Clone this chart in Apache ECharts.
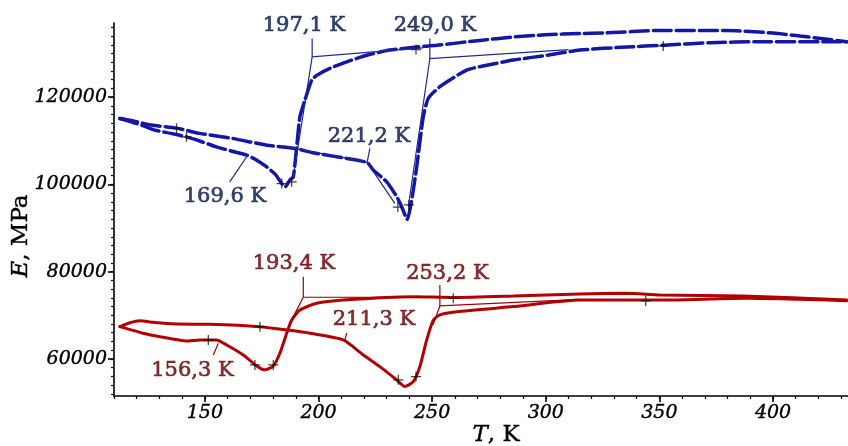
<!DOCTYPE html>
<html><head><meta charset="utf-8">
<script src="https://cdn.jsdelivr.net/npm/echarts@6/dist/echarts.min.js"></script>
<style>html,body{margin:0;padding:0;background:#fff}#c{width:848px;height:446px}</style>
</head><body><div id="c"></div>
<script>
// ---- data (T in K, E in MPa) ----
const xTicks = [150, 200, 250, 300, 350, 400];
const yTicks = [60000, 80000, 100000, 120000];

// blue: heating through low branch, transition ~190 K, upper right branch
const blue1T = [112.6,118,123.6,128.0,135,141.9,148,155.1,162,168.4,173,177.2,181,183.8,185.2,187.4,188.9,190.4,191.8,194.0,197.0,199.2,205.0,212.4,221.2,231.4,243.2,252.0,271.0,285.7,300,315.0,325.3,350.3,379.6,400.1,411.9,422,432.4];
const blue1E = [115100,114300,113300,112440,111700,110900,109900,108600,107600,106700,105500,104000,102300,100200,99400,101000,101750,108600,115500,119300,123900,125000,126600,128100,129600,130800,131500,131900,133000,133800,134300,134600,134700,135300,135300,134700,134000,133400,132700];
// blue: upper left branch, transition ~241 K, lower right branch
const blue2T = [112.6,118,126.5,137.5,147.8,162.5,177.2,189.6,197.7,212.4,221.4,224.1,230.0,234.4,236.6,239.0,241.0,243.2,246.1,248.3,253.4,265.2,274.0,285.7,300.4,315.0,335.6,351.7,372.3,394.3,432.4];
const blue2E = [115100,114600,113600,112900,111700,110500,109000,108250,107250,105960,105000,103300,100600,97200,94900,92000,96400,104000,115500,119700,122400,126200,127300,128500,129600,130800,131500,131900,132500,132700,132700];
// red: upper left branch, dip ~238 K, lower right branch
const red1T = [112.6,117.0,121.4,127.2,137.5,152.2,174.2,186.0,196.2,210.9,219.7,227.0,234.4,238.0,241.7,244.6,247.6,250.5,253.4,260.8,285.7,315.0,350.3,388.4,432.4];
const red1E = [67400,68300,68770,68400,68000,67950,67400,66640,65900,64350,60900,58240,55200,53660,54800,58240,64350,68900,70100,70800,72000,73500,73500,73900,73350];
// red: lower left branch, dip ~176 K, upper right branch
const red2T = [112.6,122.8,130.2,141.9,147.8,151.5,155.1,159.6,166.9,172.8,176.4,180.1,183.0,186.0,188.2,191.8,199.2,210.9,241.7,259.3,285.7,315.0,335.6,350.3,386.8,432.4];
const red2E = [67400,65900,65100,64100,64350,64350,64350,63200,60900,58400,57500,58400,61300,65900,68900,71200,72750,73500,74270,74100,74430,74900,75050,74660,74430,73500];

// "+" markers
const blueMarkT = [137.5,141.9,183.8,188.2,234.9,239.8,242.9,351.7];
const blueMarkE = [112900,110900,100200,100600,94800,95300,130900,131750];
const redMarkT = [151.5,174.2,172.0,180.1,235.1,242.9,259.3,344.0];
const redMarkE = [64350,67400,58630,58630,55200,55950,73900,73300];

// annotation labels
const blueLabels = ['197,1 K','249,0 K','221,2 K','169,6 K'];
const blueLabelT = [193.6,251.2,222.2,158.8];
const blueLabelE = [136490,136490,110900,97170];
const redLabels = ['193,4 K','253,2 K','211,3 K','156,3 K'];
const redLabelT = [189.2,256.7,224.4,144.5];
const redLabelE = [81760,79470,68930,57250];

// leader / tangent construction lines [ [T,E], ... ]
const blueLeaders = [
  [[197.2,133440],[197.2,129230],[246.0,131300]],
  [[197.2,129230],[188.9,101700]],
  [[249.0,133440],[249.0,128860],[310.0,130900]],
  [[249.0,128860],[239.5,94880]],
  [[222.6,108250],[221.4,105050],[185.0,108700]],
  [[221.4,105050],[233.6,95660]],
  [[160.9,100600],[168.4,106350]]
];
const redLeaders = [
  [[193.3,78850],[193.3,74130],[259.0,74100]],
  [[193.3,74130],[188.9,69700]],
  [[253.4,76950],[253.4,72140],[315.0,73670]],
  [[253.4,72140],[250.4,67800]],
  [[212.4,65900],[211.6,64350],[219.7,60900]],
  [[153.7,60900],[155.9,63600]]
];

// ---- build ----
const zip = (a, b) => a.map((v, i) => [v, b[i]]);

const X_MIN = 110, X_MAX = 433, Y_MIN = 51500, Y_MAX = 137000;
const G = {left: 114, right: 0, top: 23, bottom: 50};
// second grid for minor y ticks (2000 step) aligned to the main scale
const plotH = 446 - G.top - G.bottom;
const k = plotH / (Y_MAX - Y_MIN);
const yMinorMin = 52000, yMinorMax = 136000;
const G2 = {left: G.left, right: G.right,
  top: G.top + (Y_MAX - yMinorMax) * k, bottom: G.bottom + (yMinorMin - Y_MIN) * k};

const BLUE = '#1316a6', BLUE_T = '#08194a', RED = '#b30000', RED_T = '#6a0000';
const plus = 'path://M7,0H9V7H16V9H9V16H7V9H0V7H7Z';
const tickFont = {fontFamily: 'DejaVu Serif', fontStyle: 'italic', fontSize: 19, color: '#000',
  textBorderColor: '#000', textBorderWidth: 0.4, formatter: v => String(v)};

function curve(T, E, color, dashed) {
  return {type: 'line', data: zip(T, E), showSymbol: false, smooth: 0.2, silent: true,
    lineStyle: {color, width: dashed ? 3.5 : 3, type: dashed ? [18, 5] : 'solid', cap: 'round'}, z: 3};
}
function marks(T, E) {
  return {type: 'scatter', data: zip(T, E), symbol: plus, symbolSize: 10, silent: true,
    itemStyle: {color: '#111'}, z: 5};
}
function leaders(L, color) {
  return {type: 'lines', coordinateSystem: 'cartesian2d', polyline: true, silent: true,
    data: L.map(c => ({coords: c})), lineStyle: {color, width: 1.2, opacity: 1}, z: 4};
}
function labels(txt, T, E, color) {
  return {type: 'scatter', data: T.map((t, i) => [t, E[i], txt[i]]), symbolSize: 0, silent: true, clip: false,
    itemStyle: {color: 'transparent'},
    label: {show: true, position: 'inside', formatter: p => p.value[2], fontFamily: 'DejaVu Serif',
      fontSize: 21, color, textBorderWidth: 0.7, textBorderColor: color,
      align: 'center', verticalAlign: 'middle'}, z: 6};
}

const axisLineStyle = {color: '#000', width: 1.6};
const hiddenLine = {show: true, onZero: false, lineStyle: {color: 'rgba(0,0,0,0)', width: 0}};
const option = {
  animation: false,
  grid: [
    Object.assign({containLabel: false, outerBoundsMode: 'none'}, G),
    Object.assign({containLabel: false, outerBoundsMode: 'none'}, G2)
  ],
  xAxis: [
    {type: 'value', gridIndex: 0, min: X_MIN, max: X_MAX, splitLine: {show: false},
     axisLine: {onZero: false, lineStyle: axisLineStyle},
     axisTick: {show: true, length: 6, lineStyle: axisLineStyle, customValues: xTicks},
     axisLabel: Object.assign({margin: 8, customValues: xTicks}, tickFont)},
    {type: 'value', gridIndex: 0, min: X_MIN, max: X_MAX, interval: 10, position: 'bottom',
     splitLine: {show: false}, axisLine: hiddenLine, axisLabel: {show: false},
     axisTick: {show: true, length: 3, lineStyle: {color: '#000', width: 1.2}}},
    {type: 'value', gridIndex: 1, min: X_MIN, max: X_MAX, show: false}
  ],
  yAxis: [
    {type: 'value', gridIndex: 0, min: Y_MIN, max: Y_MAX, splitLine: {show: false},
     axisLine: {onZero: false, lineStyle: axisLineStyle},
     axisTick: {show: true, length: 6, lineStyle: axisLineStyle, customValues: yTicks},
     axisLabel: Object.assign({margin: 7, customValues: yTicks}, tickFont)},
    {type: 'value', gridIndex: 0, min: Y_MIN, max: Y_MAX, show: false},
    {type: 'value', gridIndex: 1, min: yMinorMin, max: yMinorMax, interval: 2000, position: 'left',
     splitLine: {show: false}, axisLine: hiddenLine, axisLabel: {show: false},
     axisTick: {show: true, length: 3, lineStyle: {color: '#000', width: 1.2}}}
  ],
  graphic: [
    {type: 'text', x: 496, y: 435, silent: true,
     style: {text: '{i|T}, K', fontFamily: 'DejaVu Serif', fontSize: 23, fill: '#000',
       stroke: '#000', lineWidth: 0.4, align: 'center', verticalAlign: 'middle',
       rich: {i: {fontStyle: 'italic', fontFamily: 'DejaVu Serif', fontSize: 23}}}},
    {type: 'text', x: 21, y: 236, rotation: Math.PI / 2, silent: true,
     style: {text: '{i|E}, MPa', fontFamily: 'DejaVu Serif', fontSize: 23, fill: '#000',
       stroke: '#000', lineWidth: 0.4, align: 'center', verticalAlign: 'middle',
       rich: {i: {fontStyle: 'italic', fontFamily: 'DejaVu Serif', fontSize: 23}}}}
  ],
  series: [
    curve(blue1T, blue1E, BLUE, true),
    curve(blue2T, blue2E, BLUE, true),
    curve(red1T, red1E, RED, false),
    curve(red2T, red2E, RED, false),
    leaders(blueLeaders, '#1a2a90'),
    leaders(redLeaders, '#a00000'),
    marks(blueMarkT, blueMarkE),
    marks(redMarkT, redMarkE),
    labels(blueLabels, blueLabelT, blueLabelE, BLUE_T),
    labels(redLabels, redLabelT, redLabelE, RED_T),
    {type: 'scatter', xAxisIndex: 1, yAxisIndex: 1, data: [], silent: true},
    {type: 'scatter', xAxisIndex: 2, yAxisIndex: 2, data: [], silent: true}
  ]
};
const chart = echarts.init(document.getElementById('c'), null, {renderer: 'canvas'});
chart.setOption(option);
</script></body></html>
